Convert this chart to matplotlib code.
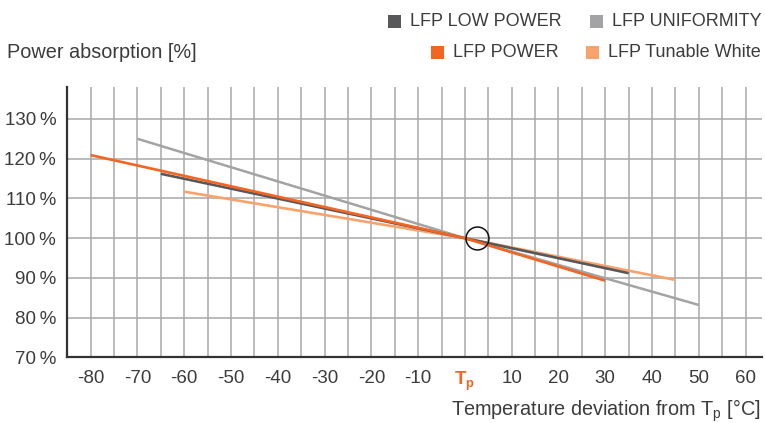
import matplotlib.pyplot as plt
from matplotlib.patches import Rectangle

plt.rcParams['font.family'] = ['Liberation Sans', 'DejaVu Sans']
plt.rcParams['mathtext.fontset'] = 'custom'
plt.rcParams['mathtext.rm'] = 'Liberation Sans'
plt.rcParams['mathtext.bf'] = 'Liberation Sans:bold'

# series (temperature deviation in degC, power absorption in %)
low_power_x = [-65, 0, 35]
low_power_y = [116.2, 100, 91.2]
uniformity_x = [-70, 0, 50]
uniformity_y = [125, 100, 83.2]
power_x = [-80, 0, 30]
power_y = [120.9, 100, 89.3]
tunable_x = [-60, 0, 45]
tunable_y = [111.7, 100, 89.5]

x_ticks = [-80, -70, -60, -50, -40, -30, -20, -10, 0, 10, 20, 30, 40, 50, 60]
x_labels = ['-80', '-70', '-60', '-50', '-40', '-30', '-20', '-10', r'$\mathbf{T}_\mathbf{p}$',
            '10', '20', '30', '40', '50', '60']
y_ticks = [70, 80, 90, 100, 110, 120, 130]
y_labels = ['70\u2009%', '80\u2009%', '90\u2009%', '100\u2009%', '110\u2009%', '120\u2009%', '130\u2009%']

legend_rows = [
    [('LFP LOW POWER', '#58585a'), ('LFP UNIFORMITY', '#a3a3a5')],
    [('LFP POWER', '#f26522'), ('LFP Tunable White', '#f8a36e')],
]

TEXT = '#3c3c3c'
GRID = '#a8a8a8'
FS = 13
FS_TICK = 13.5
FS_TITLE = 14.3

fig = plt.figure(figsize=(7.65, 4.23), dpi=100)
ax = fig.add_axes([0.088, 0.155, 0.908, 0.639])

ax.set_xlim(-85, 63.5)
ax.set_ylim(70, 138)

for gx in range(-80, 65, 5):
    ax.axvline(gx, color=GRID, lw=1.1, zorder=1)
for gy in y_ticks[1:]:
    ax.axhline(gy, color=GRID, lw=1.1, zorder=1)

ax.plot(uniformity_x, uniformity_y, color='#a3a3a5', lw=1.8, zorder=3, solid_capstyle='butt')
ax.plot(tunable_x, tunable_y, color='#f8a36e', lw=1.9, zorder=3, solid_capstyle='butt')
ax.plot(low_power_x, low_power_y, color='#58585a', lw=1.9, zorder=4, solid_capstyle='butt')
ax.plot(power_x, power_y, color='#f26522', lw=1.9, zorder=5, solid_capstyle='butt')

ax.plot([2.5], [100], marker='o', markersize=16.5, mfc='none', mec='#111111', mew=1.1, zorder=6)

for s in ['top', 'right']:
    ax.spines[s].set_visible(False)
for s in ['left', 'bottom']:
    ax.spines[s].set_color('#333333')
    ax.spines[s].set_linewidth(1.6)

ax.set_xticks(x_ticks)
ax.set_xticklabels(x_labels)
ax.set_yticks(y_ticks)
ax.set_yticklabels(y_labels)
ax.tick_params(axis='both', length=0, labelsize=FS_TICK, colors=TEXT)
ax.tick_params(axis='x', pad=9)
ax.tick_params(axis='y', pad=8)
for lab in ax.get_xticklabels():
    if 'T' in lab.get_text():
        lab.set_color('#f26522')

fig.text(0.009, 0.877, 'Power absorption [%]', fontsize=FS_TITLE, color=TEXT, ha='left', va='center')
fig.text(0.995, 0.028, r'Temperature deviation from T$_\mathrm{p}$ [°C]', fontsize=FS_TITLE,
         color=TEXT, ha='right', va='center')

# legend, drawn right aligned per row
row_y = [0.950, 0.877]
W, H = 765, 423
sq = 13
for r, row in enumerate(legend_rows):
    x = 0.995
    for label, color in reversed(row):
        t = fig.text(x, row_y[r], label, fontsize=FS, color=TEXT, ha='right', va='center')
        fig.canvas.draw()
        bb = t.get_window_extent()
        left = bb.x0 / W
        fig.patches.append(Rectangle((left - (sq + 9) / W, row_y[r] - sq / 2 / H), sq / W, sq / H,
                                     transform=fig.transFigure, color=color, lw=0))
        x = left - (sq + 9 + 28) / W

fig.savefig('out.png', dpi=100)
